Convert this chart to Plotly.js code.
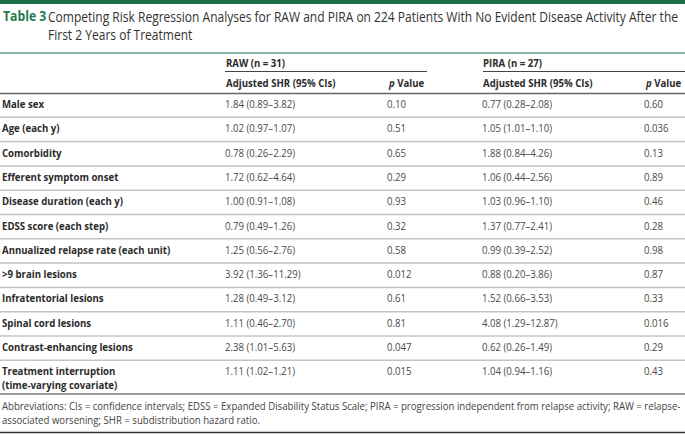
<!DOCTYPE html>
<html>
<head>
<meta charset="utf-8">
<script src="https://cdn.plot.ly/plotly-3.0.1.min.js"></script>
<style>
html,body{margin:0;padding:0;background:#fff;}
#chart{width:685px;height:435px;}
svg text{transform-box:fill-box;transform-origin:0 50%;transform:scaleX(0.875);}
</style>
</head>
<body>
<div id="chart"></div>
<script>
const labels = ["Male sex","Age (each y)","Comorbidity","Efferent symptom onset","Disease duration (each y)","EDSS score (each step)","Annualized relapse rate (each unit)",">9 brain lesions","Infratentorial lesions","Spinal cord lesions","Contrast-enhancing lesions","Treatment interruption<br>(time-varying covariate)"];
const rawShr = ["1.84 (0.89–3.82)","1.02 (0.97–1.07)","0.78 (0.26–2.29)","1.72 (0.62–4.64)","1.00 (0.91–1.08)","0.79 (0.49–1.26)","1.25 (0.56–2.76)","3.92 (1.36–11.29)","1.28 (0.49–3.12)","1.11 (0.46–2.70)","2.38 (1.01–5.63)","1.11 (1.02–1.21)"];
const rawP = ["0.10","0.51","0.65","0.29","0.93","0.32","0.58","0.012","0.61","0.81","0.047","0.015"];
const piraShr = ["0.77 (0.28–2.08)","1.05 (1.01–1.10)","1.88 (0.84–4.26)","1.06 (0.44–2.56)","1.03 (0.96–1.10)","1.37 (0.77–2.41)","0.99 (0.39–2.52)","0.88 (0.20–3.86)","1.52 (0.66–3.53)","4.08 (1.29–12.87)","0.62 (0.26–1.49)","1.04 (0.94–1.16)"];
const piraP = ["0.60","0.036","0.13","0.89","0.46","0.28","0.98","0.87","0.33","0.016","0.29","0.43"];
const groupHeaders = ["RAW (n = 31)","PIRA (n = 27)"];
const colHeaders = ["Adjusted SHR (95% CIs)","<i>p</i> Value","Adjusted SHR (95% CIs)","<i>p</i> Value"];
const titleLabel = "Table 3";
const titleText = "Competing Risk Regression Analyses for RAW and PIRA on 224 Patients With No Evident Disease Activity After the<br>First 2 Years of Treatment";
const footnote = "Abbreviations: CIs = confidence intervals; EDSS = Expanded Disability Status Scale; PIRA = progression independent from relapse activity; RAW = relapse-<br>associated worsening; SHR = subdistribution hazard ratio.";

const FONT = "Open Sans, Noto Sans, sans-serif";
const colX = [2, 225, 387, 482, 644];
const row0 = 105.3, rowH = 24.3;
const n = labels.length;
const rowY = labels.map((_, i) => row0 + rowH * i);
const labelY = labels.map((l, i) => l.includes("<br>") ? rowY[i] + 6.5 : rowY[i]);

function col(x, texts, ys, bold) {
  return {
    type: "scatter", mode: "text",
    x: texts.map(() => x), y: ys, text: bold ? texts.map(t => "<b>" + t + "</b>") : texts,
    textposition: "middle right",
    textfont: {family: FONT, size: 11, color: bold ? "#2b2b2b" : "#4a4a4a"},
    hoverinfo: "skip", showlegend: false, cliponaxis: false
  };
}
const traces = [
  col(colX[0], labels, labelY, true),
  col(colX[1], rawShr, rowY, false),
  col(colX[2], rawP, rowY, false),
  col(colX[3], piraShr, rowY, false),
  col(colX[4], piraP, rowY, false)
];

const shapes = [];
function hline(y, x0, x1, color, w) {
  shapes.push({type: "line", xref: "x", yref: "y", x0: x0, x1: x1, y0: y, y1: y, line: {color: color, width: w}});
}
shapes.push({type: "rect", xref: "x", yref: "y", x0: 0, x1: 685, y0: 0, y1: 4, fillcolor: "#1f6d48", line: {width: 0}});
hline(53, 0, 685, "#8db3a0", 2);
hline(71.5, 225, 427, "#444", 1);
hline(71.5, 483, 685, "#444", 1);
hline(93.5, 0, 685, "#666", 1.5);
for (let i = 0; i < n - 1; i++) hline(rowY[i] + 12, 0, 685, "#c4c4c4", 1.5);
hline(394, 0, 685, "#9a9a9a", 2);
hline(432.5, 0, 685, "#333", 1.5);

const annotations = [
  {xref: "x", yref: "y", x: 1, y: 15, xanchor: "left", yanchor: "middle", showarrow: false,
   text: "<b>" + titleLabel + "</b>", font: {family: FONT, size: 14, color: "#237a4f"}},
  {xref: "x", yref: "y", x: 46, y: 5, xanchor: "left", yanchor: "top", align: "left", showarrow: false,
   text: titleText, font: {family: FONT, size: 13.75, color: "#333"}},
  {xref: "x", yref: "y", x: colX[1] - 1, y: 62, xanchor: "left", yanchor: "middle", showarrow: false,
   text: "<b>" + groupHeaders[0] + "</b>", font: {family: FONT, size: 11, color: "#2b2b2b"}},
  {xref: "x", yref: "y", x: colX[3] - 1, y: 62, xanchor: "left", yanchor: "middle", showarrow: false,
   text: "<b>" + groupHeaders[1] + "</b>", font: {family: FONT, size: 11, color: "#2b2b2b"}},
  {xref: "x", yref: "y", x: 0, y: 396, xanchor: "left", yanchor: "top", align: "left", showarrow: false,
   text: footnote, font: {family: FONT, size: 11, color: "#444"}}
];
colHeaders.forEach((h, k) => annotations.push({
  xref: "x", yref: "y", x: colX[k + 1] - 1, y: 82.5, xanchor: "left", yanchor: "middle", showarrow: false,
  text: "<b>" + h + "</b>", font: {family: FONT, size: 11, color: "#2b2b2b"}
}));

const layout = {
  width: 685, height: 435,
  margin: {l: 0, r: 0, t: 0, b: 0, pad: 0},
  paper_bgcolor: "#fff", plot_bgcolor: "#fff",
  xaxis: {range: [0, 685], visible: false, fixedrange: true},
  yaxis: {range: [435, 0], visible: false, fixedrange: true},
  shapes: shapes, annotations: annotations, showlegend: false
};
Plotly.newPlot("chart", traces, layout, {staticPlot: true, displayModeBar: false});
</script>
</body>
</html>
